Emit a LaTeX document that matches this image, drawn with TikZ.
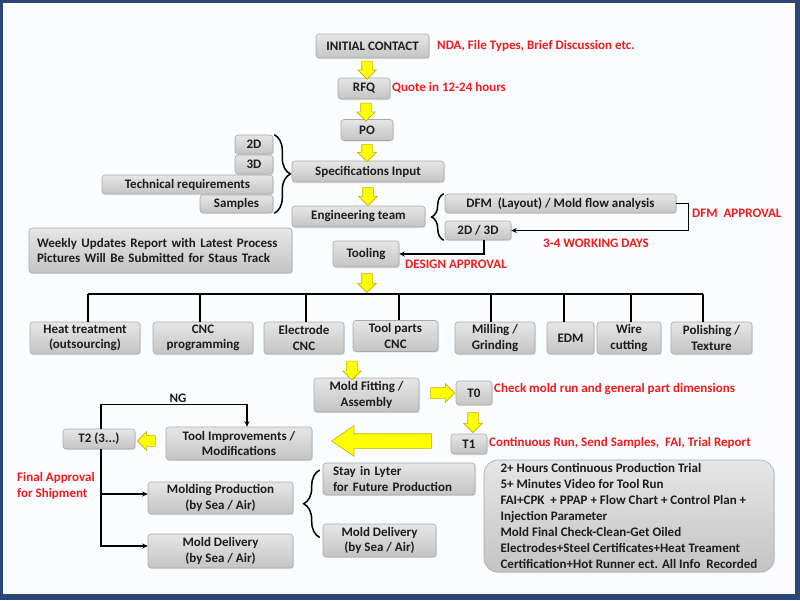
\documentclass[tikz,border=0pt]{standalone}
\usepackage{fontspec}
\setmainfont{Carlito}
\usetikzlibrary{shapes.arrows,arrows.meta,decorations.pathreplacing,calc,shadows}
\definecolor{framec}{HTML}{2E4676}
\definecolor{boxtop}{HTML}{E6E6E6}
\definecolor{boxbot}{HTML}{C4C4C4}
\definecolor{boxline}{HTML}{A8A8A8}
\definecolor{yel}{HTML}{FFFF00}
\definecolor{yelline}{HTML}{CCAA00}
\definecolor{redtxt}{HTML}{F21A1A}
\definecolor{txt}{HTML}{1C1C1C}
\begin{document}
\begin{tikzpicture}[x=1pt,y=-1pt,
  font=\bfseries\fontsize{13}{15.5}\selectfont,
  gbox/.style={draw=boxline, line width=0.6pt, rounded corners=3pt,
    top color=boxtop, bottom color=boxbot, inner sep=1pt, align=center, text=txt,
    drop shadow={opacity=0.18, shadow xshift=1pt, shadow yshift=-1.2pt}},
  rnote/.style={text=redtxt, anchor=west, inner sep=0pt},
  conn/.style={line width=1.5pt, -{Stealth[length=5.5pt,width=5pt]}},
  bline/.style={line width=1.5pt},
  brc/.style={line width=1.5pt, decorate, decoration={brace, amplitude=#1}},
  yarr/.style={single arrow, draw=yelline, fill=yel, line width=0.6pt,
    inner xsep=0pt, inner ysep=5pt, minimum width=18pt,
    single arrow head extend=4pt, single arrow head indent=0pt},
  ybig/.style={single arrow, draw=yelline, fill=yel, line width=0.6pt,
    inner xsep=0pt, inner ysep=7pt, minimum width=30pt,
    single arrow head extend=8pt, single arrow tip angle=69, single arrow head indent=0pt}
]
% frame
\fill[framec] (0,0) rectangle (800,600);
\fill[white!98!cyan] (3,3) rectangle (795,594);
\useasboundingbox (0,0) rectangle (800,600);

% top chain
\node[gbox, minimum width=113, minimum height=24] (ic) at (372.5,46) {INITIAL CONTACT};
\node[gbox, minimum width=52, minimum height=21] (rfq) at (364,88.5) {RFQ};
\node[gbox, minimum width=52, minimum height=21] (po) at (367,130) {PO};
\node[gbox, minimum width=152, minimum height=21] (spec) at (368,171.5) {Specifications Input};
\node[gbox, minimum width=133, minimum height=21] (eng) at (358.5,216.5) {Engineering team};
\node[gbox, minimum width=66, minimum height=26] (tool) at (366,254) {Tooling};

\node[rnote] (n1) at (437,46) {NDA, File Types, Brief Discussion etc.};
\node[rnote] (n2) at (392,88) {Quote in 12-24 hours};

% spec inputs
\node[gbox, minimum width=38, minimum height=19] (d2) at (254,144.5) {2D};
\node[gbox, minimum width=38, minimum height=19] (d3) at (254,164.5) {3D};
\node[gbox, minimum width=171, minimum height=19] (tech) at (187.5,184.5) {Technical requirements};
\node[gbox, minimum width=73, minimum height=18] (samp) at (236.5,204) {Samples};

% DFM
\node[gbox, minimum width=231, minimum height=19] (dfm) at (560.5,203.5) {DFM\ \ (Layout) / Mold flow analysis};
\node[gbox, minimum width=66, minimum height=19] (d23) at (478,230.5) {2D / 3D};
\node[rnote] (n3) at (692,213) {DFM\ \ APPROVAL};
\node[rnote] (n4) at (543,243) {3-4 WORKING DAYS};
\node[rnote] (n5) at (405,264) {DESIGN APPROVAL};

% weekly
\node[gbox, minimum width=263, minimum height=45, text width=247, inner xsep=8pt, align=left] (wk) at (160.5,250.5)
  {Weekly Updates Report with Latest Process\\Pictures Will Be Submitted for Staus Track};

% processes
\node[gbox, minimum width=110, minimum height=32] (ht) at (85,338) {Heat treatment\\(outsourcing)};
\node[gbox, minimum width=100, minimum height=32] (cncp) at (203,338) {CNC\\programming};
\node[gbox, minimum width=80, minimum height=32] (elec) at (304,338) {Electrode\\CNC};
\node[gbox, minimum width=85, minimum height=31] (tpc) at (395.5,336) {Tool parts\\CNC};
\node[gbox, minimum width=80, minimum height=32] (mill) at (495,338) {Milling /\\Grinding};
\node[gbox, minimum width=47, minimum height=32] (edm) at (570.5,338) {EDM};
\node[gbox, minimum width=64, minimum height=32] (wire) at (629,338) {Wire\\cutting};
\node[gbox, minimum width=81, minimum height=32] (pol) at (711.5,338) {Polishing /\\Texture};

% trials
\node[gbox, minimum width=105, minimum height=34] (mf) at (366.5,395) {Mold Fitting /\\Assembly};
\node[gbox, minimum width=36, minimum height=24] (t0) at (474,393) {T0};
\node[gbox, minimum width=36, minimum height=20] (t1) at (469,444) {T1};
\node[gbox, minimum width=146, minimum height=33] (timp) at (239,443.5) {Tool Improvements /\\Modifications};
\node[gbox, minimum width=72, minimum height=20] (t2) at (99,439) {T2 (3...)};
\node[rnote] (n6) at (494,389) {Check mold run and general part dimensions};
\node[rnote] (n7) at (489,443) {Continuous Run, Send Samples,\ \ FAI, Trial Report};
\node[inner sep=0pt, text=txt] (ng) at (178,398) {NG};
\node[rnote, align=left, font=\bfseries\fontsize{13}{16}\selectfont] (fa) at (17,486) {Final Approval\\for Shipment};

% outputs
\node[gbox, minimum width=145, minimum height=32] (mprod) at (220.5,498) {Molding Production\\(by Sea / Air)};
\node[gbox, minimum width=145, minimum height=34] (mdel1) at (220.5,551) {Mold Delivery\\(by Sea / Air)};
\node[gbox, minimum width=152, minimum height=32, text width=132, inner xsep=10pt, align=left] (stay) at (399,479) {Stay in Lyter\\for Future Production};
\node[gbox, minimum width=113, minimum height=33] (mdel2) at (379.5,540.5) {Mold Delivery\\(by Sea / Air)};
\node[gbox, rounded corners=14pt, minimum width=290, minimum height=112, inner xsep=6pt, align=left,
  font=\bfseries\fontsize{13}{16}\selectfont] (info) at (629,516)
  {2+ Hours Continuous Production Trial\\
   5+ Minutes Video for Tool Run\\
   FAI+CPK\ \ + PPAP + Flow Chart + Control Plan +\\
   Injection Parameter\\
   Mold Final Check-Clean-Get Oiled\\
   Electrodes+Steel Certificates+Heat Treament\\
   Certification+Hot Runner ect. All Info\ \ Recorded};

% yellow block arrows
\node[yarr, rotate=-90, minimum height=18] (ya1) at (367,67.5) {};
\node[yarr, rotate=-90, minimum height=18] (ya2) at (366,109.5) {};
\node[yarr, rotate=-90, minimum height=17] (ya3) at (367,150.5) {};
\node[yarr, rotate=-90, minimum height=18] (ya4) at (368,194) {};
\node[yarr, rotate=-90, minimum height=19] (ya5) at (367,280.5) {};
\node[yarr, rotate=-90, minimum height=19] (ya6) at (352,368) {};
\node[yarr, minimum height=24] (ya7) at (440,393) {};
\node[yarr, rotate=-90, minimum height=20] (ya8) at (473,420) {};
\node[ybig, rotate=180, minimum height=100] (ya9) at (387,441) {};
\node[yarr, rotate=180, minimum height=18, inner ysep=5pt, minimum width=17pt] (ya10) at (149,441) {};

% connectors
\draw[conn] (dfm.east) -- ++(12,0) |- (d23.east);
\draw[conn] ([xshift=6pt]d23.south) |- (tool.east);
\coordinate (v1) at (88,294);
\coordinate (v2) at (200,294);
\coordinate (v3) at (306,294);
\coordinate (v4) at (399,294);
\coordinate (v5) at (491,294);
\coordinate (v6) at (564,294);
\coordinate (v7) at (631,294);
\coordinate (v8) at (703,294);
\draw[bline] (v1) -- (v8);
\draw[bline] (v1) -- (v1 |- ht.north);
\draw[bline] (v2) -- (v2 |- cncp.north);
\draw[bline] (v3) -- (v3 |- elec.north);
\draw[bline] (v4) -- (v4 |- tpc.north);
\draw[bline] (v5) -- (v5 |- mill.north);
\draw[bline] (v6) -- (v6 |- edm.north);
\draw[bline] (v7) -- (v7 |- wire.north);
\draw[bline] (v8) -- (v8 |- pol.north);
\draw[conn] ([xshift=2pt]t2.north) -- ++(0,-24) -| ([xshift=8pt]timp.north);
\draw[conn] ([xshift=2pt]t2.south) |- ([yshift=4pt]mprod.west);
\draw[conn] ([xshift=2pt]t2.south) |- ([yshift=5pt]mdel1.west);

% braces
\draw[brc=16pt] ($(d2.north east)+(1,0)$) -- ($(samp.south east)+(1,0)$);
\draw[brc=12pt] ($(d23.south west)+(-1,0)$) -- ($(d23.west |- dfm.north)+(-1,0)$);
\draw[brc=16pt] ($(mdel2.west)+(-3,-3)$) -- ($(stay.west)+(-3,-9)$);
\end{tikzpicture}
\end{document}
